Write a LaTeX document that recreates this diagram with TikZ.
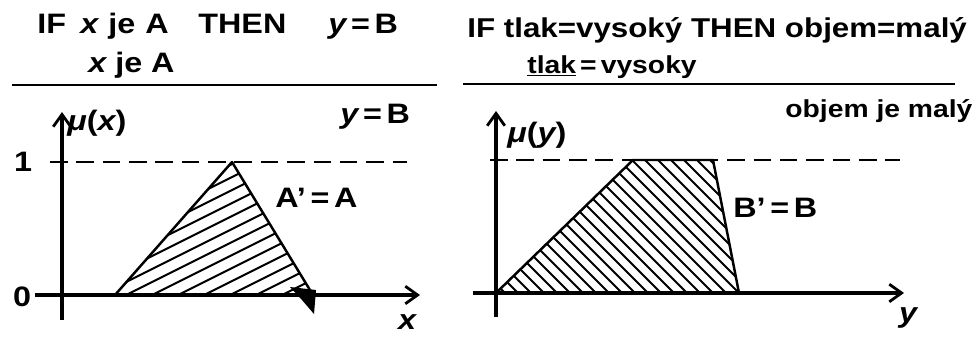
\documentclass[tikz,border=0pt]{standalone}
\usepackage{fontspec}
\setmainfont{Liberation Sans}[FakeStretch=1.15]
\usetikzlibrary{arrows.meta}
\begin{document}
\begin{tikzpicture}[x=0.02cm,y=-0.02cm,
  txt/.style={font=\fontsize{16}{18}\selectfont\bfseries, inner sep=0pt, anchor=base west},
  smalltxt/.style={font=\fontsize{14}{16}\selectfont\bfseries, inner sep=0pt, anchor=base west},
  ruleline/.style={line width=1.7pt},
  axisline/.style={line width=1.8pt, -{Straight Barb[length=7pt,width=10pt,line width=1.6pt]}},
  levelline/.style={line width=1.7pt, dash pattern=on 10pt off 5pt},
  setedge/.style={line width=1.4pt, line join=round},
  hatchline/.style={line width=1.15pt}]
\fill[white] (0,0) rectangle (973,342);
\useasboundingbox (0,0) rectangle (973,342);

% ---------------- left panel ----------------
\node[txt] (ifL)   at (37,33)  {IF};
\node[txt] (xL)    at (80,33)  {\itshape x};
\node[txt] (jeL)   at (108,33) {je};
\node[txt] (aL)    at (145,33) {A};
\node[txt] (thenL) at (198,33) {THEN};
\node[txt] (ybL)   at (328,33) {{\itshape y}\,=\,B};
\node[txt] (premL) at (88,72)  {{\itshape x} je A};
\node[txt] (concL) at (340,123) {{\itshape y}\,=\,B};

\coordinate (ruleLa) at (12,85);
\coordinate (ruleLb) at (437,85);
\draw[ruleline] (ruleLa) -- (ruleLb);

\coordinate (yaL) at (62,320);
\coordinate (ybLt) at (62,112);
\coordinate (xaL) at (35,295);
\coordinate (xbL) at (420,295);
\draw[axisline] (yaL) -- (ybLt);
\draw[axisline] (xaL) -- (xbL);
\draw[levelline] (50,162) -- (407,162);

\node[txt] (muL) at (67,130) {{\itshape μ}({\itshape x})};
\node[txt, anchor=center] (oneL)  at (23,162) {1};
\node[txt, anchor=center] (zeroL) at (22,297) {0};
\node[txt, anchor=center] (xlabL) at (407,322) {\itshape x};
\node[txt] (setA) at (275,207) {A’\,=\,A};

\coordinate (tA1) at (115,295);
\coordinate (tA2) at (232,162);
\coordinate (tA3) at (313,295);
\begin{scope}
  \clip (tA1) -- (tA2) -- (tA3) -- cycle;
  \foreach \b in {-30,-4,...,330} \draw[hatchline] (\b,295) -- ++(300,-150);
\end{scope}
\draw[setedge] (tA1) -- (tA2) -- (tA3);
\fill (290,287) -- (316,290) -- (314,314) -- (302,300) -- cycle;

% ---------------- right panel ----------------
\node[txt, font=\fontsize{15.5}{18}\selectfont\bfseries] (ifR) at (467,37) {IF tlak=vysoký THEN objem=malý};
\node[smalltxt] (premR) at (527,73) {\underline{tlak}\,=\,vysoky};
\node[smalltxt] (concR) at (785,117) {objem je malý};

\coordinate (ruleRa) at (463,84);
\coordinate (ruleRb) at (955,84);
\draw[ruleline] (ruleRa) -- (ruleRb);

\coordinate (yaR) at (496,317);
\coordinate (ybRt) at (496,111);
\coordinate (xaR) at (473,293);
\coordinate (xbR) at (904,293);
\draw[axisline] (yaR) -- (ybRt);
\draw[axisline] (xaR) -- (xbR);
\draw[levelline] (490,160) -- (900,160);

\node[txt] (muR) at (507,142) {{\itshape μ}({\itshape y})};
\node[txt, anchor=center] (ylabR) at (908,318) {\itshape y};
\node[txt] (setB) at (733,217) {B’\,=\,B};

\coordinate (tB1) at (496,293);
\coordinate (tB2) at (633,160);
\coordinate (tB3) at (713,160);
\coordinate (tB4) at (739,293);
\begin{scope}
  \clip (tB1) -- (tB2) -- (tB3) -- (tB4) -- cycle;
  \foreach \b in {505,518,...,860} \draw[hatchline] (\b,293) -- ++(-150,-150);
\end{scope}
\draw[setedge] (tB1) -- (tB2) -- (tB3) -- (tB4);
\end{tikzpicture}
\end{document}
